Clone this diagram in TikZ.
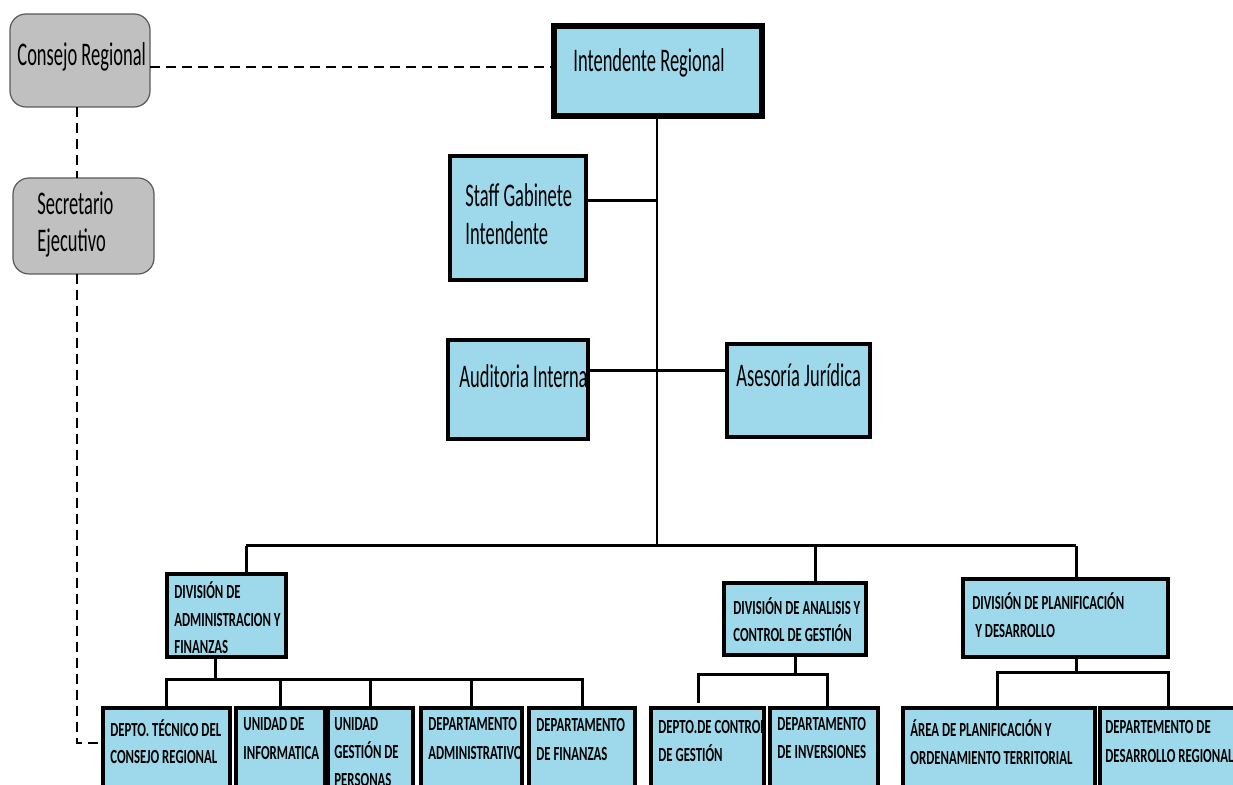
\documentclass[tikz,border=0pt]{standalone}
\usepackage{fontspec}
\setmainfont{Carlito}[FakeStretch=0.56]
\newfontfamily\bfc{Carlito}[FakeStretch=0.64]
\definecolor{boxblue}{HTML}{9DD9EA}
\definecolor{boxgray}{HTML}{C0C0C0}
\definecolor{edgegray}{HTML}{5A5A5A}
\newcommand{\mkbox}[6]{%
  \node[#1, minimum width={(#5-#3)*0.5pt}, minimum height={(#6-#4)*0.5pt}] (#2) at ({(#3+#5)/2},{(#4+#6)/2}) {};}
\tikzset{
  box/.style={draw=black, line width=1.6pt, fill=boxblue, inner sep=0pt, outer sep=0pt},
  boss/.style={box, line width=2.6pt},
  gbox/.style={draw=edgegray, line width=0.6pt, fill=boxgray, rounded corners=8pt, inner sep=0pt, outer sep=0pt},
  big/.style={anchor=base west, inner sep=0pt, font=\fontsize{16.5}{20}\selectfont},
  small/.style={anchor=base west, inner sep=0pt, font=\bfc\bfseries\fontsize{10}{12}\selectfont},
  conn/.style={line width=1.5pt},
  trunk/.style={line width=1.1pt},
  dline/.style={line width=0.6pt, dash pattern=on 5pt off 3pt},
}
\begin{document}
\begin{tikzpicture}[x=0.5pt,y=-0.5pt]
\useasboundingbox (0,0) rectangle (1233,785);
\clip (0,0) rectangle (1233,785);
% boxes
\mkbox{gbox}{cr}{10}{14}{150}{107}
\mkbox{gbox}{se}{13}{178}{154}{274}
\mkbox{boss}{ir}{554}{26}{762}{116}
\mkbox{box}{sg}{450}{156}{586}{280}
\mkbox{box}{ai}{448}{340}{588}{439}
\mkbox{box}{aj}{727}{344}{870}{437}
\mkbox{box}{da}{167}{574}{286}{657}
\mkbox{box}{dac}{724}{583}{866}{655}
\mkbox{box}{dp}{963}{579}{1168}{657}
\mkbox{box}{b1}{103}{708}{230}{810}
\mkbox{box}{b2}{236}{708}{325}{810}
\mkbox{box}{b3}{328}{708}{413}{810}
\mkbox{box}{b4}{421}{708}{522}{810}
\mkbox{box}{b5}{529}{708}{635}{810}
\mkbox{box}{c1}{651}{708}{764}{810}
\mkbox{box}{c2}{770}{708}{878}{810}
\mkbox{box}{p1}{903}{708}{1095}{810}
\mkbox{box}{p2}{1100}{708}{1250}{810}
% coordinates
\coordinate (d1) at (554,67);
\coordinate (dx) at (77,743);
\coordinate (t1) at (657,201);
\coordinate (t2) at (657,371);
\coordinate (bus) at (657,546);
\coordinate (ua) at (246,546);
\coordinate (uc) at (815,546);
\coordinate (up) at (1076,546);
\coordinate (ha) at (215,680);
\coordinate (hc) at (795,675);
\coordinate (hcl) at (698,675);
\coordinate (hcle) at (698,703);
\coordinate (hcr) at (827,675);
\coordinate (hp) at (1076,673);
\coordinate (pl) at (997,673);
\coordinate (pr) at (1168,673);
% dashed links
\draw[dline] (cr.east |- d1) -- (d1);
\draw[dline] (dx |- cr.south) -- (dx |- se.north);
\draw[dline] (dx |- se.south) -- (dx) -- (b1.west |- dx);
% trunk
\draw[trunk] (ir.south -| bus) -- (bus);
\draw[conn] (sg.east |- t1) -- (t1);
\draw[conn] (ai.east |- t2) -- (aj.west |- t2);
\draw[conn] (ua) -- (up);
\draw[conn] (ua) -- (ua |- da.north);
\draw[conn] (uc) -- (uc |- dac.north);
\draw[conn] (up) -- (up |- dp.north);
% administracion
\draw[conn] (ha |- da.south) -- (ha);
\draw[conn] (b1.north) -- (b1.north |- ha) -- (b5.north |- ha) -- (b5.north);
\draw[conn] (b2.north) -- (b2.north |- ha);
\draw[conn] (b3.north) -- (b3.north |- ha);
\draw[conn] (b4.north) -- (b4.north |- ha);
% analisis
\draw[conn] (hc |- dac.south) -- (hc);
\draw[conn] (hcle) -- (hcl) -- (hcr) -- (hcr |- c2.north);
% planificacion
\draw[conn] (hp |- dp.south) -- (hp);
\draw[conn] (pl |- p1.north) -- (pl) -- (pr) -- (pr |- p2.north);
% texts
\node[big] (tcr) at (17,66) {Consejo Regional};
\node[big] (tse1) at (37,215) {Secretario};
\node[big] (tse2) at (37,252) {Ejecutivo};
\node[big] (tir) at (573,72) {Intendente Regional};
\node[big] (tsg1) at (465,207) {Staff Gabinete};
\node[big] (tsg2) at (465,245) {Intendente};
\node[big] (tai) at (459,388) {Auditoria Interna};
\node[big] (taj) at (736,387) {Asesoría Jurídica};
\node[small] (tda1) at (174,599) {DIVISIÓN DE};
\node[small] (tda2) at (174,627) {ADMINISTRACION Y};
\node[small] (tda3) at (174,654) {FINANZAS};
\node[small] (tdc1) at (733,615) {DIVISIÓN DE ANALISIS Y};
\node[small] (tdc2) at (733,642) {CONTROL DE GESTIÓN};
\node[small] (tdp1) at (972,610) {DIVISIÓN DE PLANIFICACIÓN};
\node[small] (tdp2) at (975,638) {Y DESARROLLO};
\node[small] (tb1a) at (110,737) {DEPTO. TÉCNICO DEL};
\node[small] (tb1b) at (110,764) {CONSEJO REGIONAL};
\node[small] (tb2a) at (243,731) {UNIDAD DE};
\node[small] (tb2b) at (243,760) {INFORMATICA};
\node[small] (tb3a) at (334,731) {UNIDAD};
\node[small] (tb3b) at (334,759) {GESTIÓN DE};
\node[small] (tb3c) at (334,787) {PERSONAS};
\node[small] (tb4a) at (428,731) {DEPARTAMENTO};
\node[small] (tb4b) at (428,760) {ADMINISTRATIVO};
\node[small] (tb5a) at (536,732) {DEPARTAMENTO};
\node[small] (tb5b) at (536,761) {DE FINANZAS};
\node[small] (tc1a) at (658,734) {DEPTO.DE CONTROL};
\node[small] (tc1b) at (658,762) {DE GESTIÓN};
\node[small] (tc2a) at (777,731) {DEPARTAMENTO};
\node[small] (tc2b) at (777,759) {DE INVERSIONES};
\node[small] (tp1a) at (910,737) {ÁREA DE PLANIFICACIÓN Y};
\node[small] (tp1b) at (910,765) {ORDENAMIENTO TERRITORIAL};
\node[small] (tp2a) at (1105,734) {DEPARTEMENTO DE};
\node[small] (tp2b) at (1105,763) {DESARROLLO REGIONAL};
\end{tikzpicture}
\end{document}
